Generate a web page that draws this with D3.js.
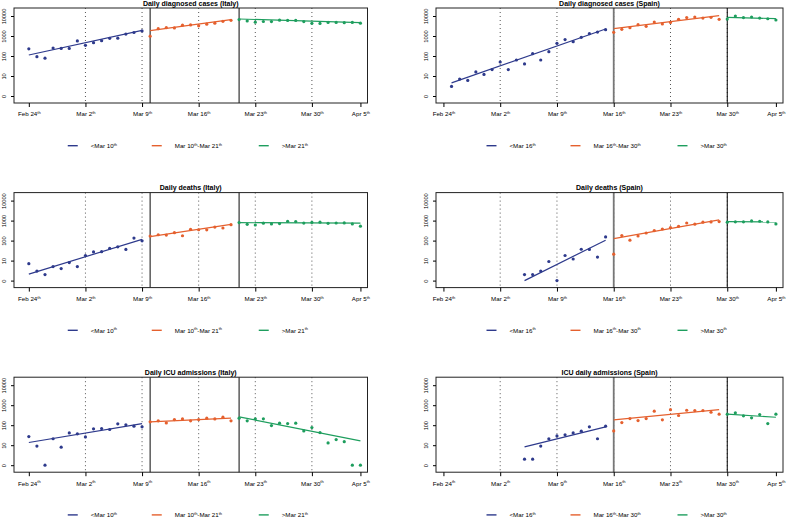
<!DOCTYPE html>
<html>
<head>
<meta charset="utf-8">
<script src="https://cdn.jsdelivr.net/npm/d3@7"></script>
<style>
  body { margin: 0; background: #fff; }
  text { font-family: "Liberation Sans", Arial, sans-serif; fill: #000; }
</style>
</head>
<body>
<div id="chart"></div>
<script>
// ---- data ----
const xTickDates = ["2020-02-24", "2020-03-02", "2020-03-09", "2020-03-16", "2020-03-23", "2020-03-30", "2020-04-05"]
const xTickLabels = ["Feb 24", "Mar 2", "Mar 9", "Mar 16", "Mar 23", "Mar 30", "Apr 5"]
const weekLines = ["2020-03-02", "2020-03-09", "2020-03-16", "2020-03-23", "2020-03-30"]
const yTicks = [1, 10, 100, 1000, 10000]
const yTickLabels = ["0", "10", "100", "1000", "10000"]

// Italy: segments start Feb 24, Mar 10, Mar 21
const italyStarts = ["2020-02-24", "2020-03-10", "2020-03-21"]
const italyBreaks = ["2020-03-10", "2020-03-21"]
const italyLegend = [["<Mar 10", ""], ["Mar 10", "-Mar 21"], [">Mar 21", ""]]

const italyCases = [
    [229, 93, 78, 250, 238, 240, 566, 342, 466, 587, 769, 778, 1247, 1492, 1797],
    [977, 2313, 2651, 2547, 3497, 3590, 3233, 3900, 4400, 5400, 6100],
    [6600, 5700, 4900, 5300, 5250, 6150, 6000, 6000, 5250, 4300, 4250, 4800, 4750, 4650, 4800, 4400]
]
const italyCasesFit = [[112, 1900], [1850, 6600], [7100, 4640]]

const italyDeaths = [
    [7, 3, 2, 5, 4, 8, 5, 18, 27, 28, 41, 49, 36, 133, 97],
    [168, 196, 189, 250, 175, 368, 349, 345, 475, 427, 627],
    [793, 651, 601, 743, 683, 712, 919, 889, 756, 812, 837, 727, 760, 766, 681, 525]
]
const italyDeathsFit = [[2.1, 116], [158, 650], [790, 740]]

const italyICU = [
    [27, 9, 0, 21, 8, 41, 37, 26, 66, 68, 61, 117, 104, 89, 83],
    [147, 165, 130, 192, 207, 165, 192, 224, 207, 251, 165],
    [224, 165, 208, 208, 96, 126, 120, 126, 52, 76, 43, 13, 19, 15, 0, 0]
]
const italyICUFit = [[13.6, 120], [147, 224], [262, 16.5]]

// Spain: segments end Mar 15, Mar 29, Apr 5
const spainCasesStarts = ["2020-02-25", "2020-03-16", "2020-03-30"]
const spainStarts = ["2020-03-05", "2020-03-16", "2020-03-30"]
const spainBreaks = ["2020-03-16", "2020-03-30"]
const spainLegend = [["<Mar 16", ""], ["Mar 16", "-Mar 30"], [">Mar 30", ""]]

const spainCases = [
    [3, 7, 6, 16, 12, 21, 50, 21, 63, 40, 131, 63, 165, 430, 660, 520, 860, 1300, 1580, 2080],
    [1520, 2150, 2600, 3700, 3030, 5000, 4000, 4800, 6800, 8300, 8900, 7900, 8600, 6800],
    [7000, 10000, 8300, 8900, 7900, 7300, 6300]
]
const spainCasesFit = [[4.5, 2240], [2340, 10400], [8600, 7400]]

const spainDeaths = [
    [2, 2, 3, 9, 0, 18, 12, 37, 36, 15, 152],
    [21, 178, 105, 170, 240, 316, 380, 450, 520, 760, 660, 830, 860, 890],
    [830, 870, 870, 960, 930, 860, 680]
]
const spainDeathsFit = [[1, 105], [126, 1080], [890, 860]]

const spainICU = [
    [2, 2, 9, 21, 29, 33, 41, 50, 83, 21, 89],
    [52, 136, 215, 170, 215, 500, 185, 600, 305, 560, 540, 540, 445, 355],
    [355, 415, 295, 235, 340, 120, 355]
]
const spainICUFit = [[8.3, 83], [185, 600], [355, 250]]

const segColors = ["#2e3a8c", "#e5602e", "#1e9e5e"]

// ---- layout ----
const width = 786
const height = 518
const rowTops = [8, 192.6, 377.2]
const boxHeight = 95
const cols = [
    { left: 14, right: 367.5, d0: -1.82, d1: 41.88, breakStyles: [["#333", 1.2], ["#333", 1.2]] },
    { left: 436, right: 783, d0: -0.9, d1: 41.89, breakStyles: [["#777", 1.8], ["#000", 1]] },
]

const panels = [
    { row: 0, col: 0, title: "Daily diagnosed cases (Italy)", data: italyCases, fit: italyCasesFit, starts: italyStarts, breaks: italyBreaks, legend: italyLegend },
    { row: 0, col: 1, title: "Daily diagnosed cases (Spain)", data: spainCases, fit: spainCasesFit, starts: spainCasesStarts, breaks: spainBreaks, legend: spainLegend },
    { row: 1, col: 0, title: "Daily deaths (Italy)", data: italyDeaths, fit: italyDeathsFit, starts: italyStarts, breaks: italyBreaks, legend: italyLegend },
    { row: 1, col: 1, title: "Daily deaths (Spain)", data: spainDeaths, fit: spainDeathsFit, starts: spainStarts, breaks: spainBreaks, legend: spainLegend },
    { row: 2, col: 0, title: "Daily ICU admissions (Italy)", data: italyICU, fit: italyICUFit, starts: italyStarts, breaks: italyBreaks, legend: italyLegend },
    { row: 2, col: 1, title: "ICU daily admissions (Spain)", data: spainICU, fit: spainICUFit, starts: spainStarts, breaks: spainBreaks, legend: spainLegend },
]

const parseDate = d3.utcParse("%Y-%m-%d")
const day0 = parseDate("2020-02-24")

const svg = d3.select("#chart")
    .append("svg")
    .attr("width", width)
    .attr("height", height)

function drawPanel(p) {
    const c = cols[p.col]
    const top = rowTops[p.row]
    const bottom = top + boxHeight

    const xScale = d3.scaleUtc()
        .domain([d3.utcHour.offset(day0, c.d0 * 24), d3.utcHour.offset(day0, c.d1 * 24)])
        .range([c.left, c.right])

    const yScale = d3.scaleLog()
        .domain([Math.pow(10, -0.35), Math.pow(10, 4.4)])
        .range([bottom, top])

    const g = svg.append("g")

    // weekly dotted lines
    g.selectAll(".week")
        .data(weekLines)
        .join("line")
        .attr("x1", d => xScale(parseDate(d)))
        .attr("x2", d => xScale(parseDate(d)))
        .attr("y1", top)
        .attr("y2", bottom)
        .attr("stroke", "#555")
        .attr("stroke-width", 1)
        .attr("stroke-dasharray", "1,3")

    // phase breaks
    g.selectAll(".brk")
        .data(p.breaks)
        .join("line")
        .attr("x1", d => xScale(parseDate(d)))
        .attr("x2", d => xScale(parseDate(d)))
        .attr("y1", top)
        .attr("y2", bottom)
        .attr("stroke", (d, i) => c.breakStyles[i][0])
        .attr("stroke-width", (d, i) => c.breakStyles[i][1])

    // points and fits per segment
    p.data.forEach((vals, si) => {
        const start = parseDate(p.starts[si])
        const pts = vals.map((v, i) => ({ date: d3.utcDay.offset(start, i), v: Math.max(v, 1) }))

        g.append("line")
            .attr("x1", xScale(start))
            .attr("x2", xScale(d3.utcDay.offset(start, vals.length - 1)))
            .attr("y1", yScale(p.fit[si][0]))
            .attr("y2", yScale(p.fit[si][1]))
            .attr("stroke", segColors[si])
            .attr("stroke-width", 1.2)

        g.selectAll(".pt" + si)
            .data(pts)
            .join("circle")
            .attr("cx", d => xScale(d.date))
            .attr("cy", d => yScale(d.v))
            .attr("r", 1.6)
            .attr("fill", segColors[si])
    })

    // box
    g.append("rect")
        .attr("x", c.left)
        .attr("y", top)
        .attr("width", c.right - c.left)
        .attr("height", boxHeight)
        .attr("fill", "none")
        .attr("stroke", "#222")
        .attr("stroke-width", 1)

    // x axis
    const xAxis = g.append("g")
        .attr("transform", `translate(0, ${bottom})`)
        .call(d3.axisBottom(xScale)
            .tickValues(xTickDates.map(parseDate))
            .tickFormat((d, i) => xTickLabels[i])
            .tickSize(4)
            .tickSizeOuter(0)
            .tickPadding(5))
    xAxis.select(".domain").remove()
    xAxis.selectAll("text")
        .attr("font-size", 6.2)
        .append("tspan")
        .attr("font-size", 4)
        .attr("dy", -2.2)
        .text("th")

    // y axis
    const yAxis = g.append("g")
        .attr("transform", `translate(${c.left}, 0)`)
        .call(d3.axisLeft(yScale)
            .tickValues(yTicks)
            .tickFormat((d, i) => yTickLabels[i])
            .tickSize(3)
            .tickSizeOuter(0))
    yAxis.select(".domain").remove()
    yAxis.selectAll("text")
        .attr("transform", "rotate(-90)")
        .attr("x", 0)
        .attr("y", -8)
        .attr("dy", 0)
        .attr("font-size", 5.6)
        .style("text-anchor", "middle")

    // title
    const cx = (c.left + c.right) / 2
    g.append("text")
        .attr("x", cx)
        .attr("y", top - 2.4)
        .attr("text-anchor", "middle")
        .attr("font-size", 7)
        .attr("font-weight", "bold")
        .text(p.title)

    // legend
    const legendX = [-123, -39, 68]
    const ly = top + 137.7
    p.legend.forEach((lab, i) => {
        const lx = cx + legendX[i]
        g.append("line")
            .attr("x1", lx)
            .attr("x2", lx + 10)
            .attr("y1", ly)
            .attr("y2", ly)
            .attr("stroke", segColors[i])
            .attr("stroke-width", 1.4)
        const t = g.append("text")
            .attr("x", lx + 23)
            .attr("y", ly + 2.2)
            .attr("font-size", 6.2)
            .text(lab[0])
        t.append("tspan").attr("font-size", 4).attr("dy", -2.2).text("th")
        if (lab[1]) {
            t.append("tspan").attr("font-size", 6.2).attr("dy", 2.2).text(lab[1])
            t.append("tspan").attr("font-size", 4).attr("dy", -2.2).text("th")
        }
    })
}

panels.forEach(drawPanel)
</script>
</body>
</html>
